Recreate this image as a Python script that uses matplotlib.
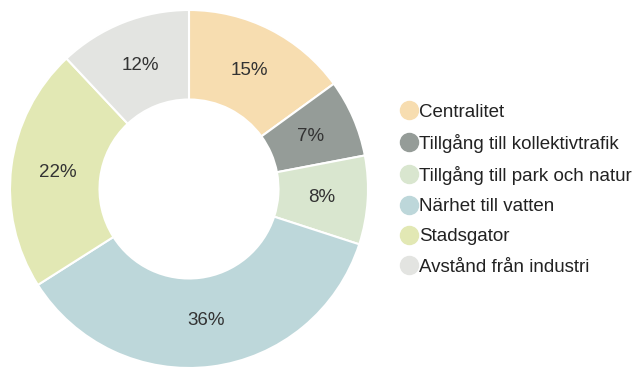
import matplotlib.pyplot as plt
from matplotlib.lines import Line2D

# share of answers per category
labels = ['Centralitet', 'Tillgång till kollektivtrafik', 'Tillgång till park och natur',
          'Närhet till vatten', 'Stadsgator', 'Avstånd från industri']
values = [15, 7, 8, 36, 22, 12]
colors = ['#F7DDB0', '#959C98', '#D9E6CF', '#BDD7DA', '#E2E8B4', '#E3E4E1']

plt.rcParams['font.family'] = ['Liberation Sans', 'DejaVu Sans']

fig = plt.figure(figsize=(6.34, 3.67), dpi=100)
ax = fig.add_axes([10 / 634, -1 / 367, 358 / 634, 358 / 367])

wedges, texts, autotexts = ax.pie(
    values, colors=colors, startangle=90, counterclock=False,
    autopct='%d%%', pctdistance=0.74,
    wedgeprops=dict(width=0.5, edgecolor='white', linewidth=1.5),
    textprops=dict(fontsize=13.5, color='#333333'))
ax.set_xlim(-1, 1)
ax.set_ylim(-1, 1)
ax.set_aspect('equal')

# round markers in the legend
handles = [Line2D([], [], marker='o', linestyle='none', markersize=13,
                  markerfacecolor=c, markeredgecolor=c) for c in colors]
fig.legend(handles, labels, loc='upper left', bbox_to_anchor=(392 / 634, 1 - 96 / 367),
           frameon=False, fontsize=13.5, handletextpad=0.05, labelspacing=0.7,
           handlelength=1.0, borderaxespad=0, labelcolor='#222222')

plt.savefig('out.png', dpi=100)
